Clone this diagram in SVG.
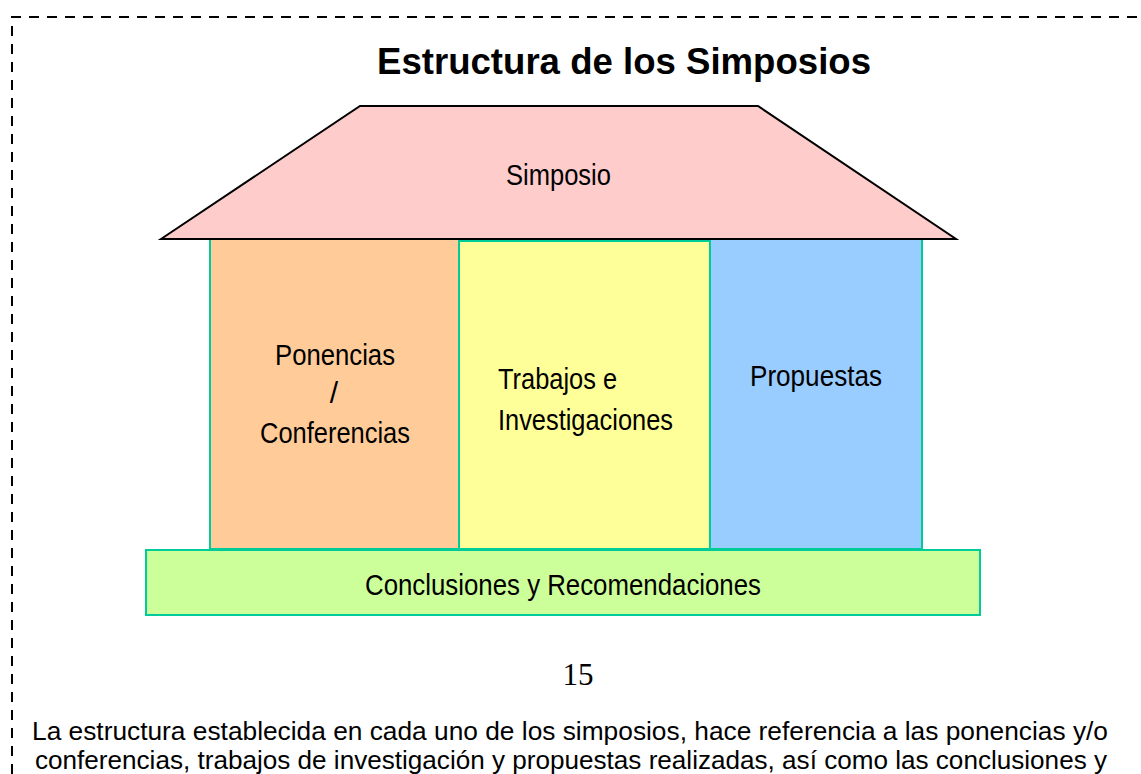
<svg xmlns="http://www.w3.org/2000/svg" width="1141" height="774" viewBox="0 0 1141 774">
<style>
.t{font-family:"Liberation Sans",Arial,sans-serif;fill:#000}
.lbl{font-size:30px}
.col{stroke:#00CC99;stroke-width:2}
</style>
<rect width="1141" height="774" fill="#fff"/>
<g id="border" fill="none" stroke="#000" stroke-width="2" stroke-dasharray="10,8">
<path d="M12,774 V17 H1141"/>
</g>
<text class="t" x="377" y="74" font-size="37" font-weight="bold" textLength="494" lengthAdjust="spacingAndGlyphs">Estructura de los Simposios</text>
<g id="connectors"></g>
<g id="ponencias">
<rect class="col" x="210" y="239" width="249" height="310" fill="#FFCC99"/>
<text class="t lbl" x="275" y="365" textLength="120" lengthAdjust="spacingAndGlyphs">Ponencias</text>
<text class="t lbl" x="334" y="403" text-anchor="middle">/</text>
<text class="t lbl" x="260" y="443" textLength="150" lengthAdjust="spacingAndGlyphs">Conferencias</text>
</g>
<g id="trabajos">
<rect class="col" x="459" y="241" width="251" height="308" fill="#FFFF99"/>
<text class="t lbl" x="498" y="389" textLength="119" lengthAdjust="spacingAndGlyphs">Trabajos e</text>
<text class="t lbl" x="498" y="430" textLength="175" lengthAdjust="spacingAndGlyphs">Investigaciones</text>
</g>
<g id="propuestas">
<rect class="col" x="710" y="239" width="212" height="310" fill="#99CCFF"/>
<text class="t lbl" x="750" y="386" textLength="132" lengthAdjust="spacingAndGlyphs">Propuestas</text>
</g>
<g id="simposio">
<polygon points="161,239 360,106 758,106 956,239" fill="#FFCCCC" stroke="#000" stroke-width="2"/>
<text class="t lbl" x="506" y="185" textLength="105" lengthAdjust="spacingAndGlyphs">Simposio</text>
</g>
<g id="conclusiones">
<rect class="col" x="146" y="550" width="834" height="65" fill="#CCFF99"/>
<text class="t lbl" x="365" y="595" textLength="396" lengthAdjust="spacingAndGlyphs">Conclusiones y Recomendaciones</text>
</g>
<text x="578" y="685" font-family="Liberation Serif,serif" font-size="31" text-anchor="middle">15</text>
<text class="t" x="32" y="740" font-size="25" textLength="1076" lengthAdjust="spacingAndGlyphs">La estructura establecida en cada uno de los simposios, hace referencia a las ponencias y/o</text>
<text class="t" x="35" y="769" font-size="25" textLength="1072" lengthAdjust="spacingAndGlyphs">conferencias, trabajos de investigación y propuestas realizadas, así como las conclusiones y</text>
</svg>
